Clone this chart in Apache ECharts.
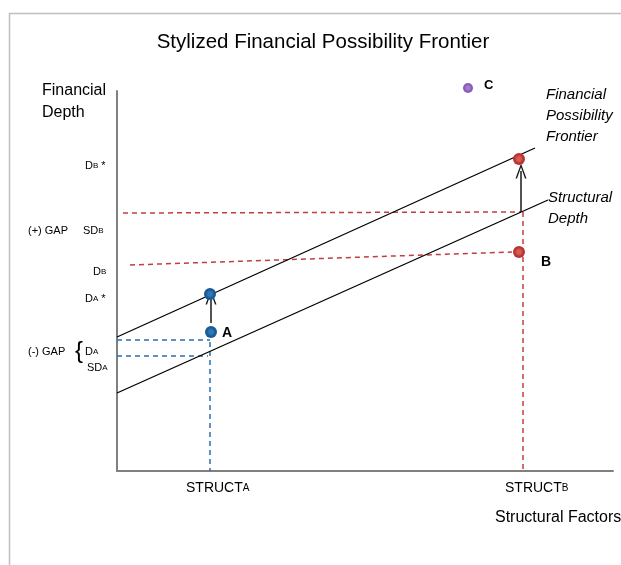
<!DOCTYPE html>
<html>
<head>
<meta charset="utf-8">
<script src="https://cdn.jsdelivr.net/npm/echarts@6/dist/echarts.min.js"></script>
<style>
  html, body { margin: 0; padding: 0; background: #fff; }
  #chart { width: 621px; height: 565px; }
</style>
</head>
<body>
<div id="chart"></div>
<script>
// stylized units: x = structural factors, y = financial depth
var frontierLine = [[0, 134], [418, 323]];
var structuralLine = [[0, 78], [431, 271]];
var pointA = [94, 139];
var pointAStar = [93, 177];
var pointB = [402, 219];
var pointBStar = [402, 312];
var pointC = [351, 383];
var gapALines = [
  [[0, 131], [93, 131]],
  [[0, 115], [91, 115]],
  [[93, 129], [93, 0]]
];
var gapBLines = [
  [[6, 258], [404, 259]],
  [[13, 206], [395, 219]],
  [[406, 259], [406, 0]]
];
var arrows = [
  [[94, 148], [94, 174]],
  [[404, 259], [404, 300]]
];

var FONT = 'Liberation Sans, Arial, sans-serif';
var myChart = echarts.init(document.getElementById('chart'));

function dashed(segs, color) {
  return segs.map(function (s) {
    return {
      type: 'line', data: s, symbol: 'none', silent: true,
      lineStyle: { color: color, width: 1.5, type: [5, 4], opacity: 1 }, z: 2
    };
  });
}

function dot(p, outer, inner, size) {
  return {
    type: 'scatter', data: [p], symbolSize: size, clip: false, z: 5,
    itemStyle: {
      opacity: 1,
      color: new echarts.graphic.RadialGradient(0.5, 0.5, 0.5, [
        { offset: 0, color: inner },
        { offset: 0.35, color: inner },
        { offset: 0.7, color: outer },
        { offset: 1, color: outer }
      ])
    }
  };
}

function sub(main, s, extra) {
  return '{m|' + main + '}{s|' + s + '}' + (extra || '');
}
var subRich = {
  m: { fontSize: 11, fontFamily: FONT, color: '#000' },
  s: { fontSize: 8, fontFamily: FONT, color: '#000' }
};
function label(x, y, text, rich, align) {
  return {
    type: 'text', x: x, y: y,
    style: { text: text, rich: rich || subRich, fill: '#000', align: align || 'left', verticalAlign: 'middle',
             font: '11px ' + FONT }
  };
}
function plain(x, y, text, font, align) {
  return {
    type: 'text', x: x, y: y,
    style: { text: text, font: font, fill: '#000', align: align || 'left', verticalAlign: 'middle' }
  };
}

var series = [];
series.push({
  type: 'line', data: frontierLine, symbol: 'none', silent: true,
  lineStyle: { color: '#000', width: 1.3 }, z: 3
});
series.push({
  type: 'line', data: structuralLine, symbol: 'none', silent: true,
  lineStyle: { color: '#000', width: 1.3 }, z: 3
});
series = series.concat(dashed(gapALines, '#2a6fad'));
series = series.concat(dashed(gapBLines, '#bf3f3f'));
series.push({
  type: 'line', data: [], silent: true,
  markLine: {
    silent: true, animation: false,
    symbol: ['none', 'path://M0,14 L5,0 L10,14 L8.6,14 L5,3.6 L1.4,14 Z'],
    symbolSize: [11, 15],
    label: { show: false },
    lineStyle: { color: '#1a1a1a', width: 1.5, type: 'solid' },
    data: arrows.map(function (a) { return [{ coord: a[0] }, { coord: a[1] }]; })
  }
});
series.push(dot(pointA, '#185a93', '#2f78b8', 12));
series.push(dot(pointAStar, '#185a93', '#2f78b8', 12));
series.push(dot(pointB, '#b83434', '#d85a50', 12));
series.push(dot(pointBStar, '#b83434', '#d85a50', 12));
series.push(dot(pointC, '#8a5cb8', '#a47bcc', 10));

myChart.setOption({
  animation: false,
  grid: { left: 117, right: 8, top: 91, bottom: 94 },
  xAxis: {
    type: 'value', min: 0, max: 496,
    axisLine: { show: true, lineStyle: { color: '#808080', width: 2 } },
    axisTick: { show: false }, axisLabel: { show: false }, splitLine: { show: false }
  },
  yAxis: {
    type: 'value', min: 0, max: 380,
    axisLine: { show: true, lineStyle: { color: '#808080', width: 2 } },
    axisTick: { show: false }, axisLabel: { show: false }, splitLine: { show: false }
  },
  graphic: [
    { type: 'rect', shape: { x: 9.5, y: 13.5, width: 700, height: 700 },
      style: { fill: 'none', stroke: '#bfbfbf', lineWidth: 1.5 }, z: -1 },
    plain(323, 42, 'Stylized Financial Possibility Frontier', '20.5px ' + FONT, 'center'),
    plain(42, 91, 'Financial', '16px ' + FONT),
    plain(42, 113, 'Depth', '16px ' + FONT),
    label(85, 166, sub('D', 'B', ' *')),
    plain(28, 231, '(+) GAP', '11px ' + FONT),
    label(83, 231, sub('SD', 'B')),
    label(93, 272, sub('D', 'B')),
    label(85, 299, sub('D', 'A', ' *')),
    plain(28, 352, '(-) GAP', '11px ' + FONT),
    plain(75, 351, '{', '24px ' + FONT),
    label(85, 352, sub('D', 'A')),
    label(87, 368, sub('SD', 'A')),
    plain(222, 333, 'A', 'bold 14px ' + FONT),
    plain(541, 262, 'B', 'bold 14px ' + FONT),
    plain(484, 85, 'C', 'bold 13px ' + FONT),
    plain(546, 95, 'Financial', 'italic 15px ' + FONT),
    plain(546, 116, 'Possibility', 'italic 15px ' + FONT),
    plain(546, 137, 'Frontier', 'italic 15px ' + FONT),
    plain(548, 198, 'Structural', 'italic 15px ' + FONT),
    plain(548, 219, 'Depth', 'italic 15px ' + FONT),
    label(186, 488, sub('STRUCT', 'A'), {
      m: { fontSize: 14, fontFamily: FONT, color: '#000' },
      s: { fontSize: 10, fontFamily: FONT, color: '#000' }
    }),
    label(505, 488, sub('STRUCT', 'B'), {
      m: { fontSize: 14, fontFamily: FONT, color: '#000' },
      s: { fontSize: 10, fontFamily: FONT, color: '#000' }
    }),
    plain(495, 518, 'Structural Factors', '16px ' + FONT)
  ],
  series: series
});
</script>
</body>
</html>
